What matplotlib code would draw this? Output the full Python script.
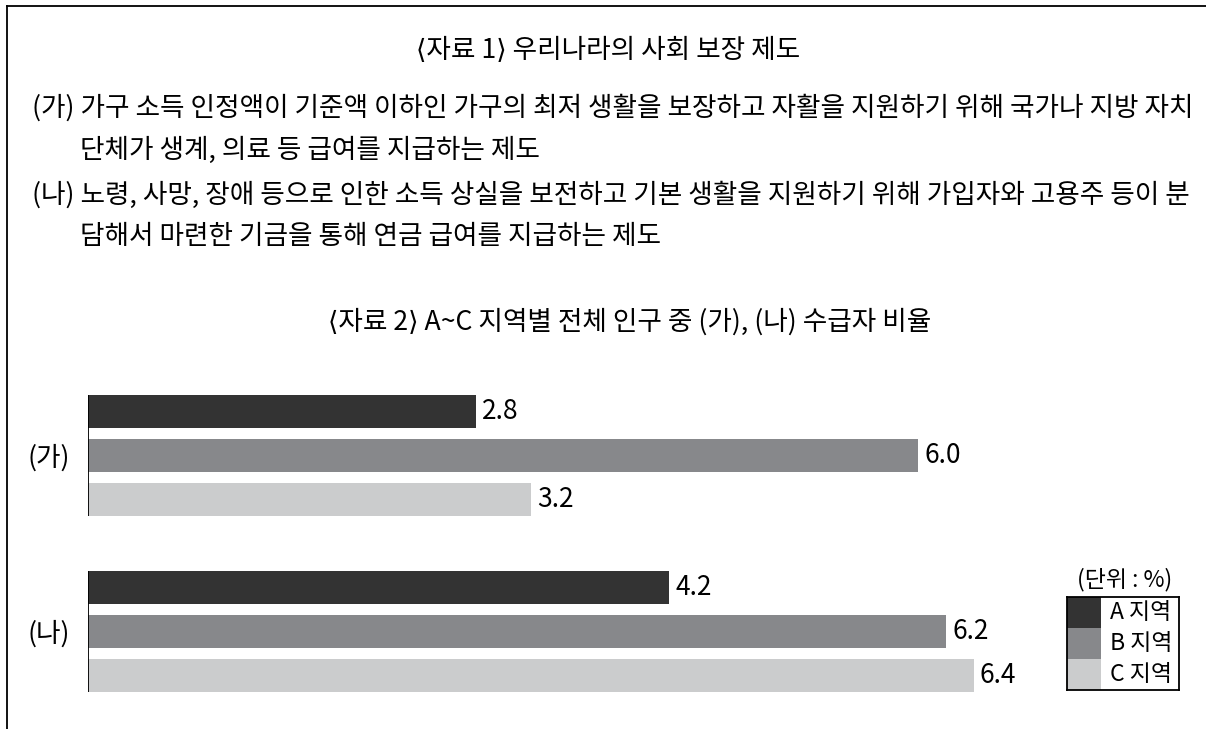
import numpy as np
import matplotlib
matplotlib.use('Agg')
import matplotlib.pyplot as plt
from matplotlib.lines import Line2D

plt.rcParams['font.family'] = ['Noto Sans CJK KR', 'DejaVu Sans']

# data
title1 = '⟨자료 1⟩ 우리나라의 사회 보장 제도'
body_lines = [
    '(가) 가구 소득 인정액이 기준액 이하인 가구의 최저 생활을 보장하고 자활을 지원하기 위해 국가나 지방 자치',
    '단체가 생계, 의료 등 급여를 지급하는 제도',
    '(나) 노령, 사망, 장애 등으로 인한 소득 상실을 보전하고 기본 생활을 지원하기 위해 가입자와 고용주 등이 분',
    '담해서 마련한 기금을 통해 연금 급여를 지급하는 제도',
]
title2 = '⟨자료 2⟩ A~C 지역별 전체 인구 중 (가), (나) 수급자 비율'
groups = ['(가)', '(나)']
regions = ['A 지역', 'B 지역', 'C 지역']
values = {
    'A 지역': [2.8, 4.2],
    'B 지역': [6.0, 6.2],
    'C 지역': [3.2, 6.4],
}
unit_label = '(단위 : %)'
colors = ['#333333', '#87888b', '#cbcccd']

W, H = 1206, 729
fig = plt.figure(figsize=(W / 100, H / 100), dpi=100)


def fx(x):
    return x / W


def fy(y):
    return 1 - y / H


# outer frame (top and left)
fig.add_artist(Line2D([fx(7), 1], [fy(6), fy(6)], color='black', lw=1.3))
fig.add_artist(Line2D([fx(7), fx(7)], [fy(6), 0], color='black', lw=1.3))

fs = 19.2
fig.text(fx(608), fy(50), title1, ha='center', va='center', fontsize=fs)
line_y = [108, 150, 195, 237]
line_x = [32, 80, 32, 80]
for txt, x, y in zip(body_lines, line_x, line_y):
    fig.text(fx(x), fy(y), txt, ha='left', va='center', fontsize=fs)
fig.text(fx(630), fy(322), title2, ha='center', va='center', fontsize=fs)

# bar chart
ax = fig.add_axes([fx(88), fy(708.5), 1000 / W, 330 / H])
px_per_unit = 138.4
ax.set_xlim(0, 1000 / px_per_unit)
ax.set_ylim(6.75, -0.75)

n = len(regions)
group_gap = 4
bar_h = 0.77
for gi, g in enumerate(groups):
    for ri, r in enumerate(regions):
        y = gi * group_gap + ri
        v = values[r][gi]
        ax.barh(y, v, height=bar_h, color=colors[ri])
        ax.text(v + 0.045, y, f'{v:.1f}', va='center', ha='left', fontsize=19)
    y0 = gi * group_gap - bar_h / 2
    y1 = gi * group_gap + n - 1 + bar_h / 2
    ax.vlines(0, y0, y1, color='black', lw=1.3)

ax.set_yticks([gi * group_gap + (n - 1) / 2 for gi in range(len(groups))])
ax.set_yticklabels(groups, fontsize=fs)
ax.tick_params(axis='y', length=0, pad=13)
ax.set_xticks([])
for s in ax.spines.values():
    s.set_visible(False)
ax.patch.set_visible(False)

# legend box
lax = fig.add_axes([fx(1067), fy(690), 112 / W, 93 / H])
lax.set_xlim(0, 112)
lax.set_ylim(n, 0)
for ri, r in enumerate(regions):
    lax.barh(ri + 0.5, 34, height=1, left=0, color=colors[ri])
    lax.text(43, ri + 0.5, r, va='center', ha='left', fontsize=16.5)
lax.set_xticks([])
lax.set_yticks([])
for s in lax.spines.values():
    s.set_linewidth(1.3)
fig.text(fx(1125), fy(580), unit_label, ha='center', va='center', fontsize=16.5)

fig.savefig('out.png', dpi=100)
